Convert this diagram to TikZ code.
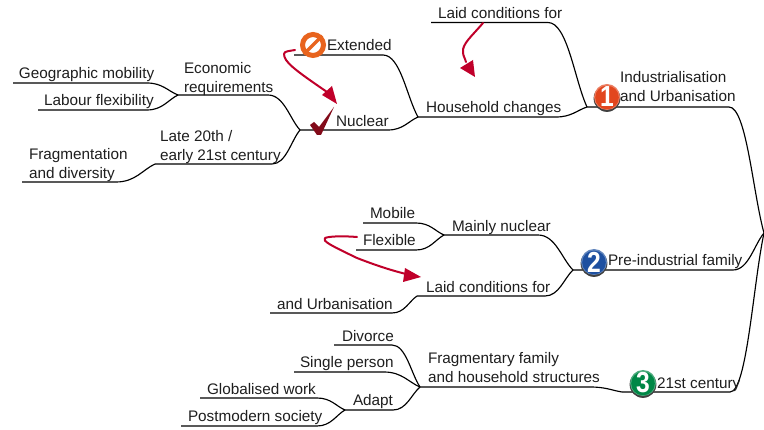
\documentclass[tikz,border=0pt]{standalone}
\usepackage{fontspec}
\setmainfont{Liberation Sans}
\usetikzlibrary{calc,shadings}
\definecolor{inkred}{RGB}{192,0,42}
\definecolor{txt}{RGB}{30,30,30}
\definecolor{stoporange}{RGB}{232,100,30}
\definecolor{checkred}{RGB}{130,10,25}
\definecolor{badgeA}{RGB}{226,70,30}
\definecolor{badgeB}{RGB}{30,80,160}
\definecolor{badgeC}{RGB}{0,135,70}
\tikzset{
  lbl/.style={anchor=base west,inner sep=0pt,outer sep=0pt,text=txt,yshift=-0.8pt,font=\fontsize{15.3}{19}\selectfont},
  lbltwo/.style={anchor=south west,inner sep=0pt,outer sep=0pt,text=txt,yshift=-0.8pt,align=left,font=\fontsize{15.3}{19}\selectfont},
  limb/.style={draw=black,line width=1.15pt},
  redline/.style={draw=inkred,line width=2pt,line cap=round,line join=round},
  redhead/.style={fill=inkred,draw=none},
  digit/.style={inner sep=0pt,text=white,xscale=0.85,font=\fontsize{29}{29}\selectfont\bfseries},
}
% name, left x, right x, y, target
\newcommand{\limbto}[5]{%
  \coordinate (#1-l) at (#2,#4);
  \coordinate (#1-r) at (#3,#4);
  \draw[limb] (#1-l) -- (#1-r) .. controls ($(#1-r)!0.5!(#5 |- #1-r)$) and ($(#1-r)!0.68!(#5)$) .. (#5);
}
\newcommand{\badge}[3]{% x,y,colour
  \fill[black!75] (#1,#2+1.5) circle (13.4);
  \fill[#3!70!white] (#1,#2) circle (13);
  \fill[#3] (#1,#2+0.5) circle (11.8);
}
\begin{document}
\begin{tikzpicture}[x=1pt,y=-1pt]
\useasboundingbox (0,0) rectangle (764,430);
% junctions
\coordinate (root) at (764,233);
\coordinate (jA) at (587,107);
\coordinate (jB) at (418,117);
\coordinate (jC) at (300,130);
\coordinate (jD) at (178,95);
\coordinate (jE) at (155,164);
\coordinate (jF) at (573,270);
\coordinate (jG) at (444,235);
\coordinate (jH) at (417,296);
\coordinate (jI) at (622,392);
\coordinate (jJ) at (420,387);
\coordinate (jK) at (345,410);
% limbs
\limbto{ind}{587}{729}{107}{root}
\limbto{hh}{418}{556}{117}{jA}
\limbto{lc}{431}{548}{22.5}{jA}
\limbto{ext}{294}{383}{55}{jB}
\limbto{nuc}{300}{388}{130}{jB}
\limbto{eco}{178}{268}{95}{jC}
\limbto{late}{155}{272}{164}{jC}
\limbto{geo}{13}{147}{83}{jD}
\limbto{lab}{38}{147}{110}{jD}
\limbto{frag}{22}{116}{182}{jE}
\limbto{pre}{573}{733}{270}{root}
\limbto{main}{444}{538}{235}{jF}
\limbto{lcb}{417}{545}{296}{jF}
\limbto{mob}{363}{416}{223}{jG}
\limbto{fle}{356}{416}{250}{jG}
\limbto{urb}{270}{392}{313}{jH}
\limbto{cen}{622}{730}{392}{root}
\limbto{fam}{420}{590}{387}{jI}
\limbto{div}{334}{392}{345}{jJ}
\limbto{sin}{294}{384}{372}{jJ}
\limbto{ada}{345}{393}{410}{jJ}
\limbto{glo}{200}{317}{398}{jK}
\limbto{pos}{181}{317}{426}{jK}
% icons
\badge{607}{97}{badgeA}
\node[digit] (one) at (607,97) {1};
\badge{594}{262}{badgeB}
\node[digit] (two) at (594,262) {2};
\badge{643}{383}{badgeC}
\node[digit] (three) at (643,383) {3};
\node[circle,draw=stoporange,line width=5pt,minimum size=21pt,inner sep=0pt] (stop) at (313,45) {};
\draw[stoporange,line width=3.5pt] (stop.south west) -- (stop.north east);
\fill[checkred] (310,125) -- (314,122) -- (319,127) -- (334,107) -- (321,135) -- (317,135) -- cycle;
% labels
\node[lbl] (tLc) at (438,18) {Laid conditions for};
\node[lbl] (tExt) at (327,50) {Extended};
\node[lbl] (tHh) at (426,112) {Household changes};
\node[lbl] (tNuc) at (336,126) {Nuclear};
\node[lbltwo] (tInd) at (620,106.7) {Industrialisation\\and Urbanisation\strut};
\node[lbltwo] (tEco) at (184,97.7) {Economic\\requirements\strut};
\node[lbl] (tGeo) at (19,78) {Geographic mobility};
\node[lbl] (tLab) at (44,105) {Labour flexibility};
\node[lbltwo] (tLate) at (160,165.7) {Late 20th /\\early 21st century\strut};
\node[lbltwo] (tFrag) at (29,183.7) {Fragmentation\\and diversity\strut};
\node[lbl] (tMob) at (370,218) {Mobile};
\node[lbl] (tFle) at (363,245) {Flexible};
\node[lbl] (tMain) at (452,231) {Mainly nuclear};
\node[lbl] (tLcb) at (426,292) {Laid conditions for};
\node[lbl] (tUrb) at (277,309) {and Urbanisation};
\node[lbl] (tPre) at (608,265) {Pre-industrial family};
\node[lbl] (tCen) at (657,388) {21st century};
\node[lbltwo] (tFam) at (428,387.7) {Fragmentary family\\and household structures\strut};
\node[lbl] (tDiv) at (342,341) {Divorce};
\node[lbl] (tSin) at (300,367) {Single person};
\node[lbl] (tGlo) at (207,394) {Globalised work};
\node[lbl] (tAda) at (353,405) {Adapt};
\node[lbl] (tPos) at (188,421) {Postmodern society};
% red hand-drawn arrows
\draw[redline] (483,23) .. controls (472,36) and (462,44) .. (463,52) .. controls (463,56) and (465,58) .. (466,62);
\fill[redhead] (460,68) -- (473,60) -- (475,77) -- cycle;
\draw[redline] (295,50) .. controls (290,51) and (284,51) .. (284,54) .. controls (284,62) and (295,70) .. (327,92);
\fill[redhead] (322,95) -- (332,86) -- (337,104) -- cycle;
\draw[redline] (357,237) .. controls (345,236) and (330,236) .. (325,238) .. controls (322,241) and (330,245) .. (357,258) .. controls (375,265) and (390,270) .. (406,274);
\fill[redhead] (405,268) -- (403,282) -- (421,277) -- cycle;
\end{tikzpicture}
\end{document}
